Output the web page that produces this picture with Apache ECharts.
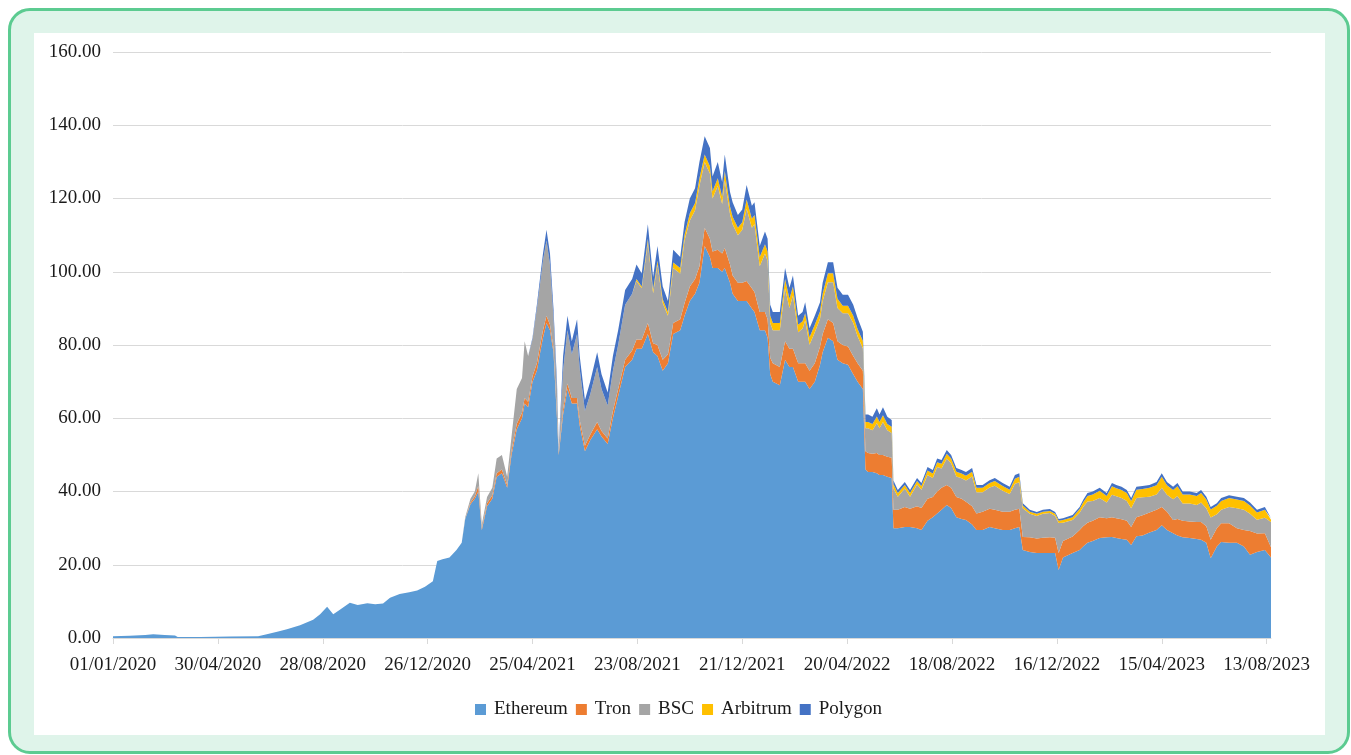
<!DOCTYPE html>
<html>
<head>
<meta charset="utf-8">
<script src="https://cdn.jsdelivr.net/npm/echarts@6/dist/echarts.min.js"></script>
<style>
  html, body { margin:0; padding:0; background:#ffffff; width:1351px; height:755px; overflow:hidden; }
  #frame { position:absolute; left:8px; top:8px; width:1342px; height:746px; box-sizing:border-box;
           border:3px solid #5ccb91; border-radius:22px; background:#dff4ea; }
  #panel { position:absolute; left:34px; top:33px; width:1291px; height:702px; background:#ffffff; }
  #chart { position:absolute; left:0; top:0; width:1351px; height:755px; }
</style>
</head>
<body>
<div id="frame"></div>
<div id="panel"></div>
<div id="chart"></div>
<script>
// Day index counted from 01/01/2020
const days = [
  0,19,37,46,59,71,74,100,134,166,
  176,189,199,214,229,237,245,252,260,271,
  280,291,300,309,317,328,339,348,357,366,
  371,377,385,393,399,403,409,414,418,422,
  428,434,439,445,451,456,462,468,471,475,
  480,485,488,492,496,500,504,508,510,515,
  520,525,531,534,540,546,554,559,566,572,
  578,586,594,599,605,612,618,623,629,635,
  641,649,654,660,666,671,677,683,686,692,
  697,700,706,709,715,720,725,731,734,740,
  746,749,752,755,763,769,774,778,784,789,
  792,797,803,809,812,818,824,829,835,841,
  847,852,858,861,864,869,874,877,881,886,
  891,893,898,906,912,920,925,932,938,943,
  948,954,959,965,971,976,983,988,995,1003,
  1009,1018,1026,1032,1037,1041,1049,1057,1064,1072,
  1078,1082,1087,1098,1106,1110,1115,1121,1129,1137,
  1143,1148,1154,1160,1165,1171,1178,1186,1194,1200,
  1206,1213,1218,1224,1232,1240,1245,1251,1256,1263,
  1268,1277,1286,1294,1301,1309,1318,1325
];

const ethereum = [
  0.5,0.6,0.8,1.0,0.8,0.7,0.3,0.3,0.4,0.5,
  1.0,1.8,2.4,3.5,5.0,6.5,8.5,6.5,7.8,9.6,
  9.0,9.5,9.2,9.4,11,12,12.5,13,14,15.5,
  21,21.5,22,24,26,32.5,36.5,38,40,29.5,
  36,38,44,45,41,50,57,60,64,63,
  70,73,77,82,86,84,78,60,50,61,
  68,64,64,58,51,54,57,55,53,60,
  66,74,76,79,79,83,78,77,73,75,
  83,84,88,92,94,97,107,104,101,101,
  100,101,97,94,92,92,92,90,89,84,
  84,82,72,70,69,76,74,74,70,70,
  70,68,70,74.6,78,82,81,76,75,74.6,
  72,70,68,46,45.3,45.3,45,44.5,44.5,44,
  43.7,30,30,30.3,30.3,30,29.5,32,33,34,
  35,36.3,35.5,33,32.5,32.2,31,29.5,29.5,30.3,
  30,29.5,29.5,30,30.3,24,23.5,23.2,23.2,23.2,
  23.2,18.6,22,23.2,24,25,26,26.5,27.3,27.5,
  27.6,27.3,27,26.8,25.4,27.8,28,28.8,29.5,30.8,
  29.5,28.6,28,27.5,27.3,27,26.8,26,21.8,25,
  26.2,26,26,25,22.7,23.5,24,22
];

const tron = [
  0,0,0,0,0,0,0,0,0,0,
  0,0,0,0,0,0,0,0,0,0,
  0,0,0,0,0,0,0,0,0,0,
  0,0,0,0,0,0,0.5,0.7,1.5,0.5,
  0.8,1,1,1,0.8,1.2,1.5,1.5,1.5,1.5,
  1.5,2,2,2,2,1.5,1.2,1,0.5,1.5,
  1.5,1.5,1.5,1.5,1.5,1.5,2,1.5,1.5,2,
  2,2,2.5,2.5,2.5,3,2.5,3,3,2.5,
  3,3,3.5,4,4,4.5,5,5,4.5,5,
  5,5.5,5,5,5,5,5.5,5.5,5.5,5,
  5,5,4.5,5,5,5,5,5,5,5,
  5,5,5,5,5,5,5,5,5,5,
  5,5,5,5,5.2,5,5.5,5.5,5.5,5.5,
  5.5,5,5,5.5,5,6,6,6,5.5,6,
  6,5.5,5.5,5.5,5.5,5,5,4.5,5,5,
  5,5,5,5,5,3.6,4,4,4.2,4.3,
  4.2,4.6,4.5,4.5,5.5,5.5,5.5,5.5,5.7,5.2,
  5.4,5.4,5.4,5.2,4.9,5.2,5.5,5.5,5.5,5,
  5,3.6,4.5,4.5,4.5,4.7,4.9,4.5,5,5,
  5.1,5.3,4,4.5,6.5,5,4.6,2.8
];

const bsc = [
  0,0,0,0,0,0,0,0,0,0,
  0,0,0,0,0,0,0,0,0,0,
  0,0,0,0,0,0,0,0,0,0,
  0,0,0,0,0,0.5,1,1.3,3.5,1,
  1.7,2,4,4,2.2,3.8,9.5,9.5,15.5,12.5,
  10,15,16.5,19,20.5,16.5,8.3,7,1,10.5,
  14.5,12,17.5,14,9.5,11,15,11.5,9,11,
  12,15,15.5,16,14,22,13.6,22,15.5,10.5,
  15,12.5,17.1,18,18.8,22,18,17.8,14.5,17.5,
  13.5,18.5,13.8,14,13,14.5,19.7,16.5,18.5,12.5,
  16,16,9.5,9,10,14.5,11.1,14.5,8.5,9.5,
  11.7,7.1,8.5,7.6,9,10.1,11.1,9.1,8.7,9.1,
  9,7.4,6.1,6.3,6.8,6.4,8.2,7.3,9,7.2,
  6.8,5.8,3.6,5,3.3,5.9,5,6.5,5.2,6.7,
  5.3,7.2,6.7,5.6,5.6,5.8,8.1,5.8,5.3,5.8,
  6.6,5.7,4.8,7.1,7.2,7.8,6.4,6.1,6.5,6.6,
  5.9,8.2,5,4.5,4.7,5.3,5.8,5.4,5.2,4.3,
  6.1,6,5.8,5.4,5.1,5.2,4.9,4.3,4.2,5.2,
  4.6,5.7,6.3,4.7,4.9,4.6,5.3,4.9,6.1,3.8,
  3.7,4.5,5.4,5.5,4.7,3.8,4.2,6.9
];

const arbitrum = [
  0,0,0,0,0,0,0,0,0,0,
  0,0,0,0,0,0,0,0,0,0,
  0,0,0,0,0,0,0,0,0,0,
  0,0,0,0,0,0,0,0,0,0,
  0,0,0,0,0,0,0,0,0,0,
  0,0,0,0,0,0,0,0,0,0,
  0,0,0,0,0,0,0,0,0,0,
  0,0,0,0.5,0.5,1,1,1,1,1,
  1.5,1.5,1.5,2,2,2,2,2,2,2,
  2,2.5,2,2,2,2,2.5,2.5,2.5,2.5,
  2.5,2.5,2,2,2,2.5,2.5,2.5,2,2,
  2,2,2,2,2,2.5,2.5,2.5,2,2,
  2,2,2,1.7,1.7,1.7,1.8,1.7,1.8,1.7,
  1.7,1.2,1,1,1,1,1,1.2,1.2,1.3,
  1.3,1.3,1.3,1.3,1.3,1.3,1.3,1.2,1.2,1.2,
  1.3,1.3,1.2,1.4,1.5,0.8,0.6,0.6,0.6,0.6,
  0.6,0.6,0.7,0.8,1,1.2,1.5,1.8,2,1.8,
  2.3,2.2,2.2,2.2,2,2.3,2.3,2.4,2.5,3,
  2.6,2.5,2.6,2.5,2.5,2.5,2.6,2.4,2.2,2.3,
  2.4,2.4,2.4,2.4,2.3,2,2.2,0.6
];

const polygon = [
  0,0,0,0,0,0,0,0,0,0,
  0,0,0,0,0,0,0,0,0,0,
  0,0,0,0,0,0,0,0,0,0,
  0,0,0,0,0,0,0,0,0,0,
  0,0,0,0,0,0,0,0,0,0,
  0.5,1,1.5,2,3,3,2.5,2,0.5,4,
  4,3.5,4,3.5,3,3.5,4,4,3.5,4,
  4,4,4,4,3.5,4,3.5,4,3.5,3,
  3.5,3,3.5,4,4,4.5,5,5,4,4.5,
  4,4.5,4,4,3.5,3.5,4,3.5,3.5,3,
  3.5,3.5,3,3,3,3,3,3,2.5,2.5,
  3,2.5,2.5,2.5,3,3,3,3,3,3,
  3,3,2.5,2,2,2,2.2,2,2.2,2,
  1.8,1,0.8,0.8,0.8,0.8,0.8,1,1,1,
  1,1,1,1,1,1,1,0.8,0.8,0.8,
  0.8,0.8,0.8,1,1,0.6,0.5,0.5,0.5,0.5,
  0.5,0.5,0.5,0.6,0.6,0.7,0.8,0.8,0.8,0.8,
  0.9,0.9,0.9,0.8,0.8,0.8,0.8,0.8,0.9,1,
  0.9,0.9,0.9,0.8,0.8,0.8,0.8,0.8,0.7,0.7,
  0.8,0.8,0.8,0.8,0.8,0.7,0.8,0.4
];

const seriesNames = ['Ethereum', 'Tron', 'BSC', 'Arbitrum', 'Polygon'];
const seriesColors = ['#5b9bd5', '#ed7d31', '#a5a5a5', '#ffc000', '#4472c4'];
const xTickLabels = ['01/01/2020','30/04/2020','28/08/2020','26/12/2020','25/04/2021','23/08/2021',
                     '21/12/2021','20/04/2022','18/08/2022','16/12/2022','15/04/2023','13/08/2023'];
const lastDay = 1325;

const values = [ethereum, tron, bsc, arbitrum, polygon];
const chart = echarts.init(document.getElementById('chart'));
const font = 'Liberation Serif, Times New Roman, serif';

chart.setOption({
  animation: false,
  grid: { left: 113, right: 80, top: 52, bottom: 117, containLabel: false },
  legend: {
    data: seriesNames,
    left: 475,
    top: 700,
    padding: 0,
    icon: 'rect',
    itemWidth: 11,
    itemHeight: 11,
    itemGap: 8,
    textStyle: { fontFamily: font, fontSize: 19, color: '#1a1a1a', padding: [0, 0, 0, 3] }
  },
  xAxis: {
    type: 'value',
    min: 0,
    max: lastDay,
    interval: 120,
    splitLine: { show: false },
    axisLine: { show: true, lineStyle: { color: '#d9d9d9', width: 1 } },
    axisTick: { show: true, length: 6, lineStyle: { color: '#d9d9d9' } },
    axisLabel: {
      margin: 18,
      showMaxLabel: false,
      fontFamily: font, fontSize: 19, color: '#1a1a1a',
      formatter: function (v) {
        if (v % 120 !== 0) return '';
        const s = xTickLabels[v / 120];
        return s === undefined ? '' : s;
      }
    }
  },
  yAxis: {
    type: 'value',
    min: 0,
    max: 160,
    interval: 20,
    axisLine: { show: false },
    axisTick: { show: false },
    splitLine: { lineStyle: { color: '#d9d9d9', width: 1 } },
    axisLabel: {
      margin: 12,
      padding: [8, 0, 0, 0],
      fontFamily: font, fontSize: 19, color: '#1a1a1a',
      formatter: function (v) { return v.toFixed(2); }
    }
  },
  series: seriesNames.map(function (name, i) {
    return {
      name: name,
      type: 'line',
      stack: 'total',
      symbol: 'none',
      showSymbol: false,
      lineStyle: { width: 0 },
      areaStyle: { color: seriesColors[i], opacity: 1 },
      itemStyle: { color: seriesColors[i] },
      // value first, day second, so the stack is applied to the y values
      encode: { x: 1, y: 0 },
      data: days.map(function (d, k) { return [values[i][k], d]; })
    };
  })
});
</script>
</body>
</html>
